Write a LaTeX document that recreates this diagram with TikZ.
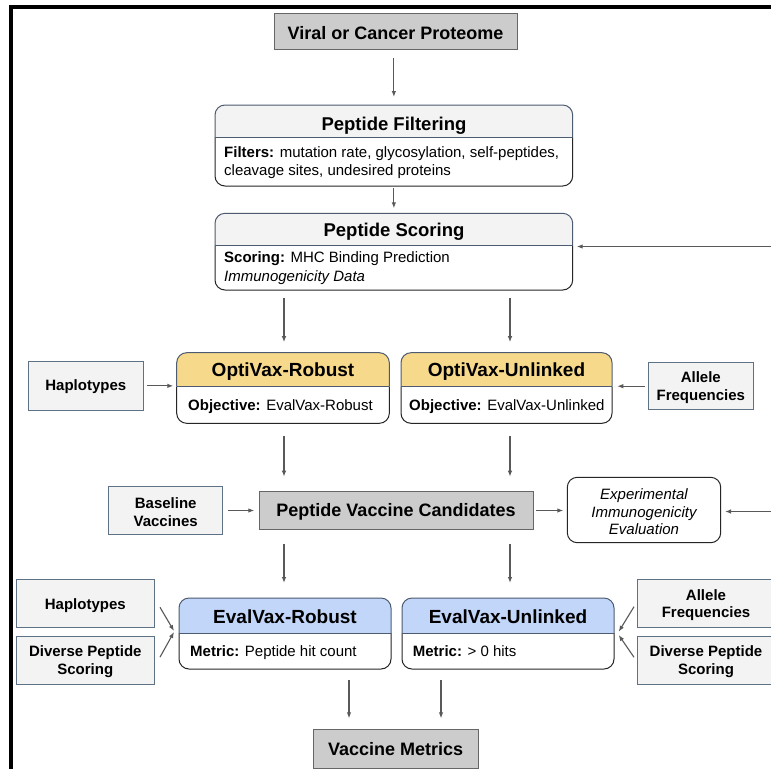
\documentclass[tikz,border=0pt]{standalone}
\usepackage{fontspec}
\setmainfont{Liberation Sans}
\usetikzlibrary{arrows.meta,fit}
\definecolor{arrowc}{HTML}{595959}
\definecolor{grayf}{HTML}{CCCCCC}
\definecolor{grayb}{HTML}{666666}
\definecolor{lightf}{HTML}{F3F3F3}
\definecolor{lightb}{HTML}{5F7185}
\definecolor{hdrline}{HTML}{4D5B70}
\definecolor{yellowh}{HTML}{F7D98B}
\definecolor{blueh}{HTML}{C2D6FA}
\newcommand{\splitbox}[7]{%
  \node[inner sep=0, outer sep=0, fit={(#2,#3)(#4,#5)}] (#1) {};
  \begin{scope}
    \clip[rounded corners=10pt] (#2,#3) rectangle (#4,#5);
    \fill[#7] (#2,#3) rectangle (#4,#6);
    \fill[white] (#2,#6) rectangle (#4,#5);
  \end{scope}
  \draw[line width=1pt, black!85, rounded corners=10pt] (#2,#6) -- (#2,#5) -- (#4,#5) -- (#4,#6);
  \draw[line width=1pt, hdrline, rounded corners=10pt] (#2,#6) -- (#2,#3) -- (#4,#3) -- (#4,#6);
  \draw[line width=1pt, hdrline] (#2,#6) -- (#4,#6);
}
\begin{document}
\begin{tikzpicture}[x=1pt,y=-1pt,
  arr/.style={draw=arrowc, line width=1.1pt, -{Latex[length=6pt,width=4.5pt]}},
  graybox/.style={draw=grayb, fill=grayf, line width=0.9pt, inner sep=0, outer sep=0},
  lightbox/.style={draw=lightb, fill=lightf, line width=0.9pt, inner sep=0, outer sep=0},
  txt/.style={inner sep=0, anchor=base west, font=\fontsize{15}{17}\selectfont},
  btxt/.style={inner sep=0, anchor=base, font=\fontsize{15}{17}\selectfont\bfseries},
  itxt/.style={inner sep=0, anchor=base, font=\fontsize{15}{17}\selectfont\itshape},
  ttl/.style={inner sep=0, anchor=base, font=\fontsize{19}{22}\selectfont\bfseries},
  mttl/.style={inner sep=0, anchor=base, font=\fontsize{18}{21}\selectfont\bfseries}]
\useasboundingbox (0,0) rectangle (771,769);
\fill[white] (0,0) rectangle (771,769);
% frame
\draw[line width=4pt, miter limit=10] (11,769) -- (11,7) -- (771,7);

% boxes
\node[graybox, fit={(274,13.3)(517,49.3)}] (vc) {};
\splitbox{pf}{215}{105}{572.7}{186}{137.3}{lightf}
\splitbox{ps}{215}{213.3}{572.7}{290}{245.7}{lightf}
\splitbox{ovr}{176.7}{352.7}{389.3}{423.3}{386.7}{yellowh}
\splitbox{ovu}{401}{352.7}{612}{423.3}{386.7}{yellowh}
\node[lightbox, fit={(28.3,361.7)(143.3,410)}] (hap1) {};
\node[lightbox, fit={(648.3,362.7)(753.3,409.7)}] (ale1) {};
\node[graybox, fit={(259,491.7)(533,529.3)}] (pvc) {};
\node[lightbox, fit={(108.7,486.7)(222.7,534.3)}] (base) {};
\node[draw=black!85, fill=white, line width=1pt, rounded corners=10pt, inner sep=0, outer sep=0, fit={(567.3,477.3)(720.7,542.7)}] (exp) {};
\splitbox{evr}{179}{598}{391}{669}{633}{blueh}
\splitbox{evu}{402}{598}{614}{669}{633}{blueh}
\node[lightbox, fit={(16.7,579.3)(154,627.3)}] (hap2) {};
\node[lightbox, fit={(16.7,636)(154,684.3)}] (dps1) {};
\node[lightbox, fit={(637.3,579.3)(775,627.3)}] (ale2) {};
\node[lightbox, fit={(637.3,636)(775,684.3)}] (dps2) {};
\node[graybox, fit={(313.3,729.3)(478.3,768.3)}] (vm) {};

% texts
\node[mttl] (vc-t) at (395.5,39) {Viral or Cancer Proteome};
\node[inner sep=0, anchor=base, font=\fontsize{18.5}{21}\selectfont\bfseries] (pf-t) at (394,130) {Peptide Filtering};
\node[txt] (pf-b1) at (224,157) {\textbf{Filters:} mutation rate, glycosylation, self-peptides,};
\node[txt] (pf-b2) at (224,175) {cleavage sites, undesired proteins};
\node[inner sep=0, anchor=base, font=\fontsize{18.5}{21}\selectfont\bfseries] (ps-t) at (394,236.5) {Peptide Scoring};
\node[txt] (ps-b1) at (224,262.5) {\textbf{Scoring:} MHC Binding Prediction};
\node[txt] (ps-b2) at (224,281) {\textit{Immunogenicity Data}};
\node[ttl] (ovr-t) at (283,376) {OptiVax-Robust};
\node[txt] (ovr-b) at (188,410) {\textbf{Objective:} EvalVax-Robust};
\node[ttl] (ovu-t) at (506.5,376) {OptiVax-Unlinked};
\node[txt] (ovu-b) at (409,410) {\textbf{Objective:} EvalVax-Unlinked};
\node[btxt] (hap1-t) at (85.8,390.7) {Haplotypes};
\node[btxt] (ale1-t1) at (700.8,382.5) {Allele};
\node[btxt] (ale1-t2) at (700.8,400.5) {Frequencies};
\node[mttl] (pvc-t) at (396,516.5) {Peptide Vaccine Candidates};
\node[btxt] (base-t1) at (165.7,508.3) {Baseline};
\node[btxt] (base-t2) at (165.7,526) {Vaccines};
\node[itxt] (exp-t1) at (644,499) {Experimental};
\node[itxt] (exp-t2) at (644,517) {Immunogenicity};
\node[itxt] (exp-t3) at (644,534.5) {Evaluation};
\node[ttl] (evr-t) at (285,623) {EvalVax-Robust};
\node[txt] (evr-b) at (190,656) {\textbf{Metric:} Peptide hit count};
\node[ttl] (evu-t) at (508,623) {EvalVax-Unlinked};
\node[txt] (evu-b) at (412.7,656) {\textbf{Metric:} > 0 hits};
\node[btxt] (hap2-t) at (85.3,609) {Haplotypes};
\node[btxt] (dps1-t1) at (85.3,656.7) {Diverse Peptide};
\node[btxt] (dps1-t2) at (85.3,674) {Scoring};
\node[btxt] (ale2-t1) at (706,600) {Allele};
\node[btxt] (ale2-t2) at (706,617.5) {Frequencies};
\node[btxt] (dps2-t1) at (706,656.7) {Diverse Peptide};
\node[btxt] (dps2-t2) at (706,674) {Scoring};
\node[mttl] (vm-t) at (395.7,755) {Vaccine Metrics};

% helper coordinates
\coordinate (colL) at (284,0);
\coordinate (colR) at (510,0);
\coordinate (cvl) at (349,0);
\coordinate (cvr) at (441,0);
\coordinate (edgePS) at (771,246.5);
\coordinate (edgeEx) at (771,511.5);

% connectors
\draw[arr, shorten <=9pt, shorten >=8pt] (vc.south -| pf.north) -- (pf.north);
\draw[arr, shorten <=2pt, shorten >=5pt] (pf.south) -- (ps.north);
\draw[arr, shorten >=4pt] (edgePS) -- (edgePS -| ps.east);
\draw[arr, shorten <=8pt, shorten >=10.5pt] (ps.south -| colL) -- (ovr.north -| colL);
\draw[arr, shorten <=8pt, shorten >=10.5pt] (ps.south -| colR) -- (ovu.north -| colR);
\draw[arr, shorten <=3.4pt, shorten >=3.4pt] (hap1.east) -- (hap1.east -| ovr.west);
\draw[arr, shorten <=3.3pt, shorten >=5.3pt] (ale1.west) -- (ale1.west -| ovu.east);
\draw[arr, shorten <=12.7pt, shorten >=15pt] (ovr.south -| colL) -- (pvc.north -| colL);
\draw[arr, shorten <=12.7pt, shorten >=15pt] (ovu.south -| colR) -- (pvc.north -| colR);
\draw[arr, shorten <=5pt, shorten >=4.7pt] (base.east) -- (base.east -| pvc.west);
\draw[arr, shorten <=3pt, shorten >=4pt] (pvc.east) -- (pvc.east -| exp.west);
\draw[arr, shorten >=4.3pt] (edgeEx) -- (edgeEx -| exp.east);
\draw[arr, shorten <=14.7pt, shorten >=15pt] (pvc.south -| colL) -- (evr.north -| colL);
\draw[arr, shorten <=14.7pt, shorten >=15pt] (pvc.south -| colR) -- (evu.north -| colR);
\draw[arr] ([shift={(6,4)}]hap2.east) -- ([shift={(-5,-2.5)}]evr.west);
\draw[arr] ([shift={(6,-3)}]dps1.east) -- ([shift={(-5,-1.5)}]evr.west);
\draw[arr] ([shift={(-3.3,3.4)}]ale2.west) -- ([shift={(4.7,-1.8)}]evu.east);
\draw[arr] ([shift={(-3.3,-2.9)}]dps2.west) -- ([shift={(4.7,1.5)}]evu.east);
\draw[arr, shorten <=11pt, shorten >=11pt] (evr.south -| cvl) -- (vm.north -| cvl);
\draw[arr, shorten <=11pt, shorten >=11pt] (evu.south -| cvr) -- (vm.north -| cvr);
\end{tikzpicture}
\end{document}
